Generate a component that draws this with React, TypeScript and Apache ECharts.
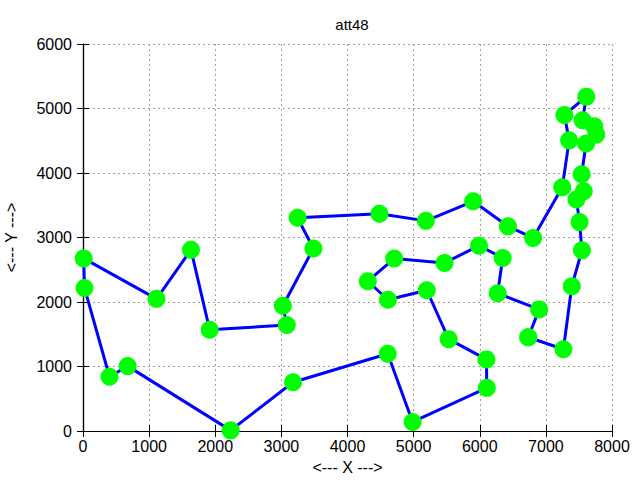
import React, { useEffect, useRef } from "react";
import * as echarts from "echarts";

const cityX = [6734, 2233, 5530, 401, 3082, 7608, 7573, 7265, 6898, 1112, 5468, 5989, 4706, 4612, 6347, 6107, 7611, 7462, 7732, 5900, 4483, 6101, 5199, 1633, 4307, 675, 7555, 7541, 3177, 7352, 7545, 3245, 6426, 4608, 23, 7248, 7762, 7392, 3484, 6271, 4985, 1916, 7280, 7509, 10, 6807, 5185, 3023];
const cityY = [1453, 10, 1424, 841, 1644, 4458, 3716, 1268, 1885, 2049, 2606, 2873, 2674, 2035, 2683, 669, 5184, 3590, 4723, 3561, 3369, 1110, 2182, 2809, 2322, 1006, 4819, 3981, 756, 4506, 2801, 3305, 3173, 1198, 2216, 3779, 4595, 2244, 2829, 2135, 140, 1569, 4899, 3239, 2676, 2993, 3258, 1942];
const tourOrder = [1, 8, 38, 31, 44, 18, 7, 28, 6, 37, 19, 27, 17, 43, 30, 36, 46, 33, 20, 47, 21, 32, 39, 48, 5, 42, 24, 10, 45, 35, 4, 26, 2, 29, 34, 41, 16, 22, 3, 23, 14, 25, 13, 11, 12, 15, 40, 9, 1];
const xTicks = [0, 1000, 2000, 3000, 4000, 5000, 6000, 7000, 8000];
const yTicks = [0, 1000, 2000, 3000, 4000, 5000, 6000];
const titleText = "att48";
const xLabel = "<--- X --->";
const yLabel = "<--- Y --->";

export default function App() {
  const ref = useRef<HTMLDivElement>(null);
  useEffect(() => {
    if (!ref.current) return;
    const chart = echarts.init(ref.current, null, { renderer: "svg" });
    const tourData = tourOrder.map((id) => [cityX[id - 1], cityY[id - 1]]);
    const font = "Liberation Sans, Arial, sans-serif";
    const fmt = (v: number) => String(v);
    const gridLine = { show: true, lineStyle: { color: "#a0a0a0", type: [2, 3] as any, width: 1 } };
    const mainAxisLine = { show: true, lineStyle: { color: "#000", width: 1.2 } };
    const tick = { show: true, inside: true, length: 6, lineStyle: { color: "#000" } };
    chart.setOption({
      animation: false,
      backgroundColor: "#fff",
      title: {
        text: titleText,
        left: 347,
        textAlign: "center",
        top: 12,
        textStyle: { fontFamily: font, fontSize: 15, fontWeight: "normal", color: "#000" },
      },
      grid: { left: 83, right: 28, top: 44, bottom: 49, containLabel: false, outerBoundsMode: "none" },
      xAxis: [
        {
          type: "value",
          min: xTicks[0],
          max: xTicks[xTicks.length - 1],
          interval: 1000,
          name: xLabel,
          nameLocation: "middle",
          nameGap: 28,
          nameTextStyle: { fontFamily: font, fontSize: 16, color: "#000" },
          axisLine: mainAxisLine,
          axisTick: tick,
          axisLabel: { fontFamily: font, fontSize: 16, color: "#000", margin: 7, formatter: fmt },
          splitLine: gridLine,
        },
        {
          type: "value",
          position: "top",
          min: xTicks[0],
          max: xTicks[xTicks.length - 1],
          interval: 1000,
          axisLine: mainAxisLine,
          axisTick: tick,
          axisLabel: { show: false },
          splitLine: { show: false },
        },
      ],
      yAxis: [
        {
          type: "value",
          min: yTicks[0],
          max: yTicks[yTicks.length - 1],
          interval: 1000,
          name: yLabel,
          nameLocation: "middle",
          nameGap: 64,
          nameTextStyle: { fontFamily: font, fontSize: 16, color: "#000" },
          axisLine: mainAxisLine,
          axisTick: tick,
          axisLabel: { fontFamily: font, fontSize: 16, color: "#000", margin: 11, formatter: fmt },
          splitLine: gridLine,
        },
        {
          type: "value",
          position: "right",
          min: yTicks[0],
          max: yTicks[yTicks.length - 1],
          interval: 1000,
          axisLine: mainAxisLine,
          axisTick: tick,
          axisLabel: { show: false },
          splitLine: { show: false },
        },
      ],
      series: [
        {
          type: "line",
          data: tourData,
          symbol: "circle",
          symbolSize: 18,
          showAllSymbol: true,
          lineStyle: { color: "#0000ff", width: 3 },
          itemStyle: { color: "#00ff00", borderWidth: 0 },
          emphasis: { disabled: true },
        },
      ],
    });
    return () => chart.dispose();
  }, []);
  return <div ref={ref} style={{ width: 640, height: 480, position: "absolute", left: 0, top: 0 }} />;
}
